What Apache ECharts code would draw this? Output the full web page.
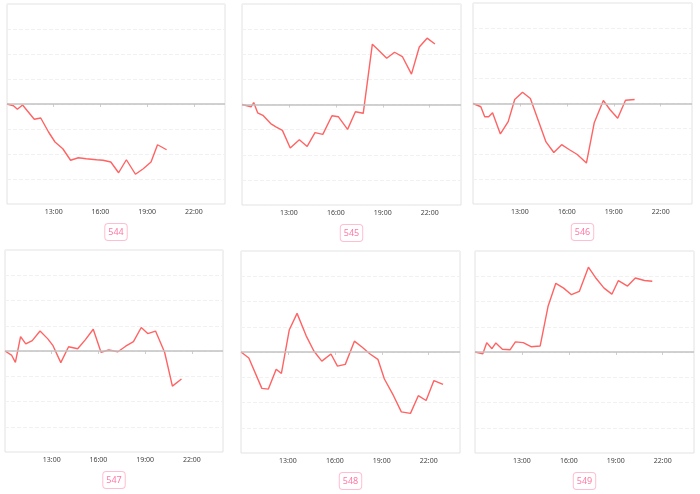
<!DOCTYPE html>
<html>
<head>
<meta charset="utf-8">
<script src="https://cdn.jsdelivr.net/npm/echarts@6/dist/echarts.min.js"></script>
<style>
html,body{margin:0;padding:0;background:#fff;}
#chart{width:700px;height:494px;}
</style>
</head>
<body>
<div id="chart"></div>
<script>
// ---- data ----
const panelIds = ['544', '545', '546', '547', '548', '549'];
const xTickLabels = ['13:00', '16:00', '19:00', '22:00'];

const times544 = ['10:00','10:25','10:40','11:00','11:45','12:10','12:40','13:05','13:35','14:05','14:35','15:05','15:45','16:10','16:40','17:10','17:40','18:15','18:45','19:15','19:40','20:15'];
const values544 = [0,-0.07,-0.21,-0.04,-0.61,-0.56,-1.12,-1.52,-1.79,-2.25,-2.15,-2.19,-2.23,-2.25,-2.32,-2.75,-2.23,-2.81,-2.59,-2.32,-1.63,-1.83];

const times545 = ['10:00','10:35','10:45','11:00','11:20','11:50','12:10','12:35','13:05','13:40','14:10','14:40','15:10','15:45','16:10','16:45','17:15','17:45','18:20','18:40','19:15','19:45','20:15','20:50','21:20','21:50','22:20'];
const values545 = [0,-0.09,0.08,-0.33,-0.43,-0.76,-0.89,-1.03,-1.73,-1.40,-1.67,-1.12,-1.19,-0.45,-0.49,-0.99,-0.29,-0.35,2.40,2.20,1.84,2.08,1.91,1.21,2.29,2.64,2.41];

const times546 = ['10:00','10:30','10:45','11:00','11:15','11:45','12:15','12:40','13:10','13:40','14:10','14:40','15:10','15:40','16:10','16:40','17:15','17:45','18:20','18:45','19:15','19:45','20:20'];
const values546 = [0,-0.13,-0.53,-0.53,-0.37,-1.21,-0.72,0.16,0.45,0.20,-0.67,-1.53,-1.95,-1.64,-1.84,-2.03,-2.37,-0.77,0.12,-0.24,-0.59,0.13,0.16];

const times547 = ['10:00','10:25','10:40','11:00','11:20','11:45','12:15','12:45','13:05','13:35','14:05','14:40','15:10','15:40','16:10','16:40','17:15','17:45','18:15','18:45','19:10','19:40','20:15','20:45','21:20'];
const values547 = [0,-0.16,-0.45,0.57,0.28,0.41,0.79,0.48,0.21,-0.46,0.17,0.09,0.45,0.86,-0.05,0.04,-0.03,0.19,0.37,0.93,0.69,0.79,-0.05,-1.39,-1.11];

const times548 = ['10:00','10:30','11:20','11:45','12:15','12:35','13:05','13:35','14:10','14:40','15:10','15:45','16:10','16:40','17:15','17:45','18:15','18:45','19:10','19:45','20:15','20:50','21:20','21:50','22:20','22:55'];
const values548 = [0,-0.24,-1.44,-1.47,-0.68,-0.85,0.87,1.53,0.64,0.03,-0.36,-0.08,-0.56,-0.49,0.43,0.19,-0.08,-0.29,-1.07,-1.73,-2.37,-2.43,-1.73,-1.92,-1.13,-1.28];

const times549 = ['10:00','10:30','10:45','11:05','11:20','11:45','12:15','12:35','13:05','13:35','14:10','14:40','15:10','15:40','16:10','16:40','17:15','17:45','18:15','18:45','19:10','19:45','20:15','20:50','21:20'];
const values549 = [0,-0.07,0.37,0.13,0.36,0.11,0.09,0.40,0.37,0.21,0.24,1.80,2.72,2.53,2.27,2.40,3.36,2.91,2.53,2.29,2.83,2.61,2.93,2.83,2.80];

const seriesTimes = [times544, times545, times546, times547, times548, times549];
const seriesValues = [values544, values545, values546, values547, values548, values549];

// ---- layout ----
const layout = [
  {left: 7,   top: 4,   width: 218, height: 200},
  {left: 242, top: 4,   width: 219, height: 201},
  {left: 473, top: 3,   width: 219, height: 201},
  {left: 5,   top: 250, width: 218, height: 202},
  {left: 241, top: 251, width: 219, height: 202},
  {left: 475, top: 251, width: 219, height: 202}
];

const toHours = s => { const p = s.split(':').map(Number); return p[0] + p[1] / 60; };
const tickHours = xTickLabels.map(toHours);

const grids = [], xAxes = [], yAxes = [], series = [], graphics = [];
layout.forEach((g, i) => {
  grids.push({left: g.left, top: g.top, width: g.width, height: g.height, show: true,
    borderColor: '#e2e2e2', borderWidth: 1, backgroundColor: '#fff'});
  xAxes.push({gridIndex: i, type: 'value', min: 10, max: 24,
    axisLine: {show: false},
    axisTick: {show: true, customValues: tickHours, length: 3, lineStyle: {color: '#cfcfcf'}},
    axisLabel: {customValues: tickHours, formatter: v => xTickLabels[tickHours.indexOf(v)] || '',
      fontSize: 7, color: '#444', margin: 4, fontFamily: 'Noto Sans'},
    splitLine: {show: false}});
  yAxes.push({gridIndex: i, type: 'value', min: -4, max: 4, interval: 1,
    axisLabel: {show: false}, axisLine: {show: false}, axisTick: {show: false},
    splitLine: {show: true, lineStyle: {color: '#f1f1f1', type: 'dashed', width: 1}}});
  const data = seriesTimes[i].map((t, k) => [toHours(t), seriesValues[i][k]]);
  series.push({type: 'line', xAxisIndex: i, yAxisIndex: i, data: data,
    showSymbol: false, symbol: 'none',
    lineStyle: {color: '#ff6363', width: 1.4}, itemStyle: {color: '#ff6363'},
    markLine: {silent: true, symbol: 'none', label: {show: false},
      lineStyle: {color: '#c2c2c2', width: 1.5, type: 'solid'},
      data: [{yAxis: 0}]},
    z: 3});
  graphics.push({type: 'text', x: g.left + g.width / 2, y: g.top + g.height + 28,
    style: {text: panelIds[i], fill: '#ff78a3', fontSize: 9, fontFamily: 'Noto Sans',
      align: 'center', verticalAlign: 'middle',
      backgroundColor: '#fff', borderColor: '#ffbfd0', borderWidth: 1, borderRadius: 3,
      padding: [4, 3, 3, 3]}});
});

const chart = echarts.init(document.getElementById('chart'), null, {renderer: 'canvas'});
chart.setOption({
  animation: false,
  grid: grids, xAxis: xAxes, yAxis: yAxes, series: series, graphic: graphics
});
</script>
</body>
</html>
